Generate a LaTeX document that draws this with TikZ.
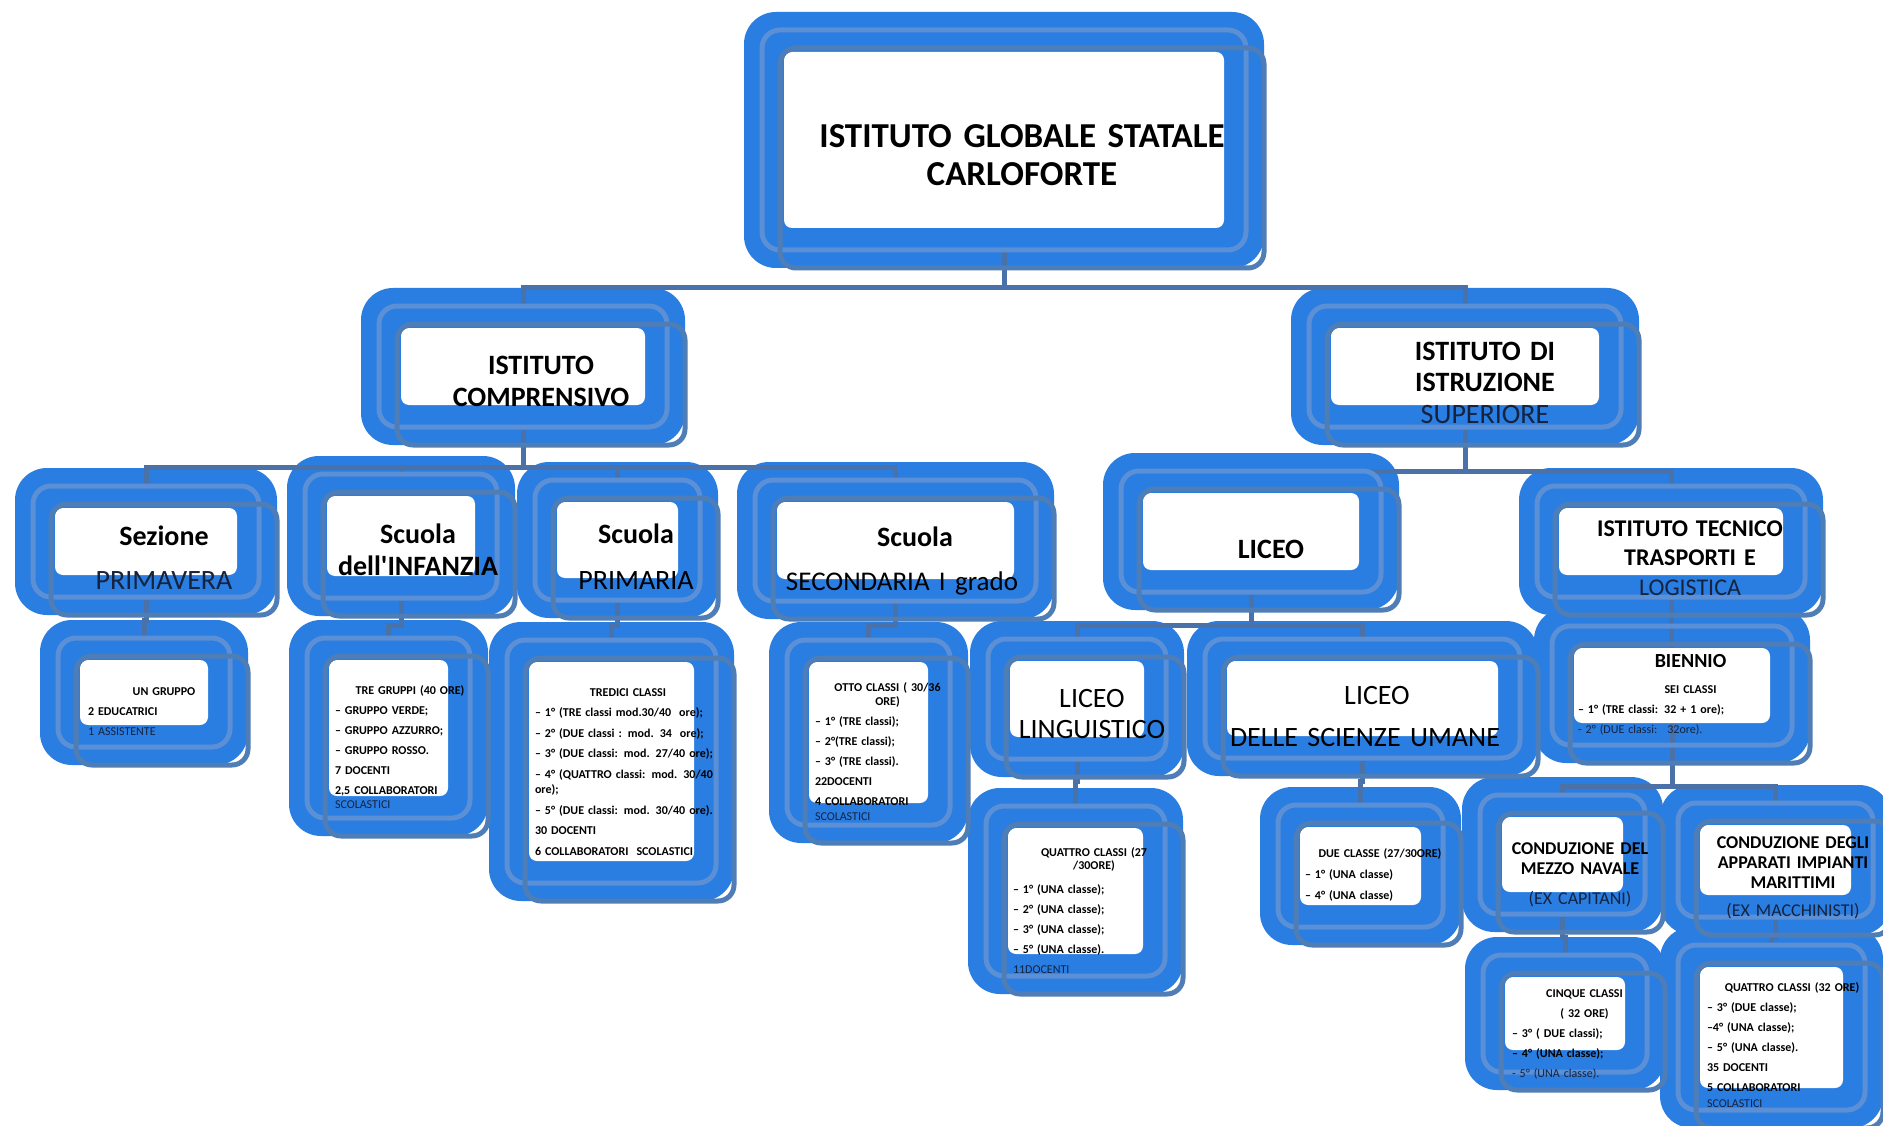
\documentclass[tikz,border=0pt]{standalone}
\usepackage{fontspec}
\setmainfont{Carlito}[Ligatures=TeXOff]
\usetikzlibrary{calc}
\definecolor{glowC}{HTML}{2A7DE1}
\definecolor{frameC}{HTML}{5B8FD6}
\definecolor{shadowC}{HTML}{4F7DB6}
\definecolor{connC}{HTML}{4A72A8}
\definecolor{navyC}{HTML}{15233F}
\pgfdeclarelayer{glowlayer}
\pgfdeclarelayer{connlayer}
\pgfsetlayers{glowlayer,connlayer,main}
\newcommand\CenLine[1]{\hspace*{\fill}#1\hspace*{\fill}\mbox{}}
\newcommand\OvBlue[1]{{\mdseries\color{navyC}#1}}
\newcommand\OrgBox[5]{%
  \begin{pgfonlayer}{glowlayer}
    \node[glowbox, minimum width={#4-#2+36}, minimum height={#5-#3+36}] (#1) at ({(#2+#4)/2},{(#3+#5)/2}) {};
  \end{pgfonlayer}
  \node[framebox, minimum width={#4-#2}, minimum height={#5-#3}] (#1f) at ({(#2+#4)/2},{(#3+#5)/2}) {};
  \fill[white, rounded corners=8pt] (#2+22,#3+22) rectangle (#4-22,#5-22);
  \draw[shadowbox] (#2+18,#3+18) rectangle (#4+18,#5+18);
}
\tikzset{
  glowbox/.style={fill=glowC, draw=none, rounded corners=32pt, inner sep=0pt, outer sep=0pt},
  framebox/.style={draw=frameC, line width=5pt, rounded corners=18pt, inner sep=0pt},
  shadowbox/.style={draw=shadowC, line width=5pt, rounded corners=16pt},
  conn/.style={draw=connC, line width=5pt},
  lbl/.style={inner sep=0pt, outer sep=0pt, text=black},
  head/.style={lbl, align=center, anchor=base, font=\fontsize{28}{32}\selectfont\bfseries},
  tiny/.style={lbl, align=left, anchor=base west, font=\fontsize{12}{20}\selectfont\bfseries},
}
\begin{document}
\begin{tikzpicture}[x=1pt,y=-1pt]
\useasboundingbox (0,0) rectangle (1883,1126);
\begin{pgfonlayer}{glowlayer}
\fill[white] (0,0) rectangle (1883,1126);
\end{pgfonlayer}

\OrgBox{top}{762}{30}{1246}{250}
\OrgBox{comp}{379}{306}{667}{427}
\OrgBox{sup}{1309}{306}{1621}{427}
\OrgBox{sez}{33}{486}{259}{597}
\OrgBox{inf}{305}{474}{497}{598}
\OrgBox{pri}{535}{480}{700}{600}
\OrgBox{sec}{755}{480}{1036}{601}
\OrgBox{lic}{1121}{471}{1381}{592}
\OrgBox{tec}{1537}{486}{1805}{597}
\OrgBox{ung}{58}{638}{230}{747}
\OrgBox{treg}{307}{638}{470}{818}
\OrgBox{tred}{507}{640}{716}{883}
\OrgBox{otto}{787}{640}{950}{825}
\OrgBox{ling}{988}{639}{1166}{759}
\OrgBox{sci}{1205}{639}{1520}{758}
\OrgBox{qa}{986}{806}{1165}{976}
\OrgBox{due}{1278}{805}{1443}{927}
\OrgBox{bie}{1552}{626}{1792}{745}
\OrgBox{con}{1480}{795}{1645}{914}
\OrgBox{cog}{1678}{803}{1873}{917}
\OrgBox{cin}{1483}{955}{1647}{1072}
\OrgBox{qb}{1678}{945}{1865}{1110}

\begin{pgfonlayer}{connlayer}
\coordinate (b0) at (0,288);
\coordinate (b1) at (0,467);
\coordinate (b2) at (0,471);
\coordinate (b3) at (0,620);
\coordinate (b4) at (0,625);
\coordinate (b5) at (0,781);
\coordinate (b6) at (0,786);
\coordinate (b7) at (0,937);
\draw[conn] (topf.south) |- (b0 -| compf.north) -- (compf.north);
\draw[conn] (topf.south) |- (b0 -| supf.north) -- (supf.north);
\draw[conn] (compf.south) |- (b1 -| sezf.north) -- (sezf.north);
\draw[conn] (compf.south) |- (b1 -| inff.north) -- (inff.north);
\draw[conn] (compf.south) |- (b1 -| prif.north) -- (prif.north);
\draw[conn] (compf.south) |- (b1 -| secf.north) -- (secf.north);
\draw[conn] (supf.south) |- (b2 -| licf.north) -- (licf.north);
\draw[conn] (supf.south) |- (b2 -| tecf.north) -- (tecf.north);
\draw[conn] (sezf.south) |- (b3 -| ungf.north) -- (ungf.north);
\draw[conn] (inff.south) |- (b4 -| tregf.north) -- (tregf.north);
\draw[conn] (prif.south) |- (b4 -| tredf.north) -- (tredf.north);
\draw[conn] (secf.south) |- (b4 -| ottof.north) -- (ottof.north);
\draw[conn] (licf.south) |- (b4 -| lingf.north) -- (lingf.north);
\draw[conn] (licf.south) |- (b4 -| scif.north) -- (scif.north);
\draw[conn] (lingf.south) |- (b5 -| qaf.north) -- (qaf.north);
\draw[conn] (scif.south) |- (b5 -| duef.north) -- (duef.north);
\draw[conn] (tecf.south) |- (bief.center);
\draw[conn] (bief.center) |- (b6 -| conf.north) -- (conf.north);
\draw[conn] (bief.center) |- (b6 -| cogf.north) -- (cogf.north);
\draw[conn] (conf.south) |- (b7 -| cinf.north) -- (cinf.north);
\draw[conn] (cogf.south) |- (b7 -| qbf.north) -- (qbf.north);
\end{pgfonlayer}

% headings
\node[head, font=\fontsize{35}{38}\selectfont\bfseries, text width=480pt] (topT) at (1022,148) {ISTITUTO GLOBALE STATALE\\CARLOFORTE};
\node[head, text width=280pt] (compT) at (541,374) {ISTITUTO\\COMPRENSIVO};
\node[head, text width=300pt, font=\fontsize{28}{31.5}\selectfont\bfseries] (supT) at (1485,360) {ISTITUTO DI\\ISTRUZIONE\\\OvBlue{SUPERIORE}};
\node[head, text width=220pt] (sezT) at (164,545) {Sezione\\[12pt]\OvBlue{PRIMAVERA}};
\node[head, text width=200pt] (infT) at (418,543) {Scuola\\dell'INFANZIA};
\node[head, text width=180pt] (priT) at (636,543) {Scuola\\[14pt]{\mdseries PRIMARIA}};
\node[head, text width=280pt] (secT) at (902,546) {\hspace*{26pt}Scuola\\[12pt]{\mdseries\fontsize{27}{32}\selectfont SECONDARIA I grado}};
\node[head, text width=240pt] (licT) at (1271,558) {LICEO};
\node[head, text width=260pt, font=\fontsize{24}{29.5}\selectfont\bfseries] (tecT) at (1690,536) {ISTITUTO TECNICO\\TRASPORTI E\\\OvBlue{LOGISTICA}};
\node[head, text width=200pt, font=\fontsize{28}{31}\selectfont] (lingT) at (1092,707) {LICEO\\LINGUISTICO};
\node[head, text width=300pt, font=\fontsize{28}{32}\selectfont] (sciT) at (1365,704) {\hspace*{24pt}LICEO\\[10pt]DELLE SCIENZE UMANE};

% small texts
\node[tiny, text width=152pt] (ungT) at (88,695) {\CenLine{UN GRUPPO}\\
2 EDUCATRICI\\
\OvBlue{1 ASSISTENTE}};
\node[tiny, text width=150pt] (tregT) at (335,694) {\CenLine{TRE GRUPPI (40 ORE)}\\
– GRUPPO VERDE;\\
– GRUPPO AZZURRO;\\
– GRUPPO ROSSO.\\
7 DOCENTI\\
2,5 COLLABORATORI\\[-6pt]
\OvBlue{SCOLASTICI}};
\node[tiny, text width=186pt, font=\fontsize{12}{20.5}\selectfont\bfseries] (tredT) at (535,696) {\CenLine{TREDICI CLASSI}\\
– 1° (TRE classi mod.30/40 ~ore);\\
– 2° (DUE classi : mod. 34 ~ore);\\
– 3° (DUE classi: mod. 27/40 ore);\\
– 4° (QUATTRO classi: mod. 30/40\\[-5pt]
ore);\\
– 5° (DUE classi: mod. 30/40 ore).\\
30 DOCENTI\\
6 COLLABORATORI ~SCOLASTICI};
\node[tiny, text width=145pt] (ottoT) at (815,691) {\CenLine{OTTO CLASSI ( 30/36}\\[-6pt]
\CenLine{ORE)}\\
– 1° (TRE classi);\\
– 2°(TRE classi);\\
– 3° (TRE classi).\\
22DOCENTI\\
4 COLLABORATORI\\[-5pt]
\OvBlue{SCOLASTICI}};
\node[tiny, text width=162pt] (qaT) at (1013,856) {\CenLine{QUATTRO CLASSI (27}\\[-7pt]
\CenLine{/30ORE)}\\[4pt]
– 1° (UNA classe);\\
– 2° (UNA classe);\\
– 3° (UNA classe);\\
– 5° (UNA classe).\\
\OvBlue{11DOCENTI}};
\node[tiny, text width=150pt, font=\fontsize{12}{21}\selectfont\bfseries] (dueT) at (1305,857) {\CenLine{DUE CLASSE (27/30ORE)}\\
– 1° (UNA classe)\\
– 4° (UNA classe)};
\node[tiny, text width=225pt] (bieT) at (1578,667) {\CenLine{{\fontsize{20}{20}\selectfont BIENNIO}}\\[6pt]
\CenLine{SEI CLASSI}\\
– 1° (TRE classi: 32 + 1 ore);\\
\OvBlue{- 2° (DUE classi: ~32ore).}};
\node[head, text width=170pt, font=\fontsize{18}{20}\selectfont\bfseries] (conT) at (1580,854) {CONDUZIONE DEL\\MEZZO NAVALE\\[10pt]\OvBlue{(EX CAPITANI)}};
\node[head, text width=190pt, font=\fontsize{18}{20}\selectfont\bfseries] (cogT) at (1793,848) {CONDUZIONE DEGLI\\APPARATI IMPIANTI\\MARITTIMI\\[8pt]\OvBlue{(EX MACCHINISTI)}};
\node[tiny, text width=145pt] (cinT) at (1512,997) {\CenLine{CINQUE CLASSI}\\
\CenLine{( 32 ORE)}\\
– 3° ( DUE classi);\\
– 4° (UNA classe);\\
\OvBlue{- 5° (UNA classe).}};
\node[tiny, text width=170pt] (qbT) at (1707,991) {\CenLine{QUATTRO CLASSI (32 ORE)}\\
– 3° (DUE classe);\\
–4° (UNA classe);\\
– 5° (UNA classe).\\
35 DOCENTI\\
5 COLLABORATORI\\[-4pt]
\OvBlue{SCOLASTICI}};
\end{tikzpicture}
\end{document}
